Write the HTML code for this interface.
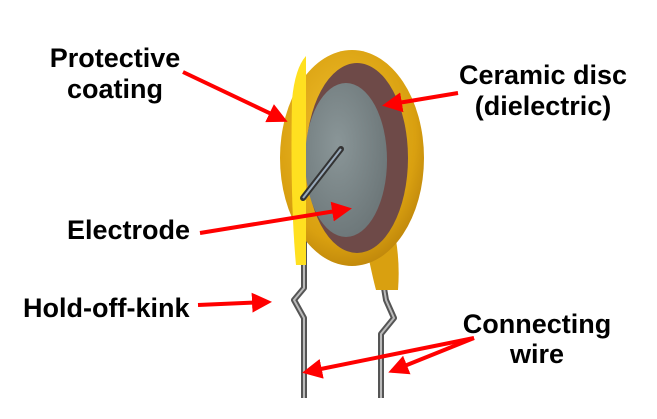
<!DOCTYPE html>
<html><head><style>
html,body{margin:0;padding:0;background:#fff;}
svg{display:block;}
text{font-family:"Liberation Sans",Arial,sans-serif;font-weight:bold;font-size:27px;fill:#000;}
</style></head><body>
<svg width="657" height="419" viewBox="0 0 657 419" xmlns="http://www.w3.org/2000/svg">
<defs>
<radialGradient id="gold" cx="0.45" cy="0.4" r="0.7">
<stop offset="0" stop-color="#f2c230"/><stop offset="0.7" stop-color="#d9a010"/><stop offset="1" stop-color="#b07808"/>
</radialGradient>
<radialGradient id="grey" cx="0.4" cy="0.4" r="0.7">
<stop offset="0" stop-color="#8a9698"/><stop offset="1" stop-color="#6a7476"/>
</radialGradient>
<marker id="ah" markerWidth="5" markerHeight="5" refX="4" refY="2.5" orient="auto" markerUnits="strokeWidth">
<path d="M0,0 L5,2.5 L0,5 z" fill="#f00"/></marker>
</defs>
<path d="M304,200 L304,288 L294,300 L304,318 L304,398" fill="none" stroke="#555" stroke-width="6" stroke-linejoin="round"/>
<path d="M304,200 L304,288 L294,300 L304,318 L304,398" fill="none" stroke="#bbb" stroke-width="2" stroke-linejoin="round"/>
<path d="M384,288 L386,300 L394,318 L381,334 L381,398" fill="none" stroke="#555" stroke-width="6" stroke-linejoin="round"/>
<path d="M384,288 L386,300 L394,318 L381,334 L381,398" fill="none" stroke="#bbb" stroke-width="2" stroke-linejoin="round"/>
<path d="M366,245 Q372,275 376,290 L398,290 Q400,265 396,240 z" fill="#d9a010"/>
<ellipse cx="352" cy="158" rx="72" ry="108" fill="url(#gold)"/>
<ellipse cx="357" cy="158" rx="51" ry="95" fill="#6e4a48"/>
<ellipse cx="346" cy="160" rx="41" ry="77" fill="url(#grey)"/>
<path d="M292,100 Q295,68 306,56 L306,265 L296,265 Q290,200 292,100 z" fill="#ffe020"/>
<path d="M303,198 L341,149" stroke="#333" stroke-width="6" stroke-linecap="round"/>
<path d="M303,198 L341,149" stroke="#9ab" stroke-width="2"/>
<g stroke="#f00" stroke-width="4" fill="none">
<line x1="183" y1="72" x2="284" y2="120" marker-end="url(#ah)"/>
<line x1="458" y1="93" x2="386" y2="105" marker-end="url(#ah)"/>
<line x1="200" y1="233" x2="348" y2="209" marker-end="url(#ah)"/>
<line x1="198" y1="305" x2="268" y2="302" marker-end="url(#ah)"/>
<line x1="474" y1="338" x2="306" y2="372" marker-end="url(#ah)"/>
<line x1="474" y1="338" x2="392" y2="371" marker-end="url(#ah)"/>
</g>
<text x="115" y="67" text-anchor="middle">Protective</text>
<text x="115" y="98" text-anchor="middle">coating</text>
<text x="543" y="84" text-anchor="middle">Ceramic disc</text>
<text x="543" y="115" text-anchor="middle">(dielectric)</text>
<text x="67" y="239">Electrode</text>
<text x="23" y="317">Hold-off-kink</text>
<text x="537" y="333" text-anchor="middle">Connecting</text>
<text x="537" y="363" text-anchor="middle">wire</text>
</svg>
</body></html>
